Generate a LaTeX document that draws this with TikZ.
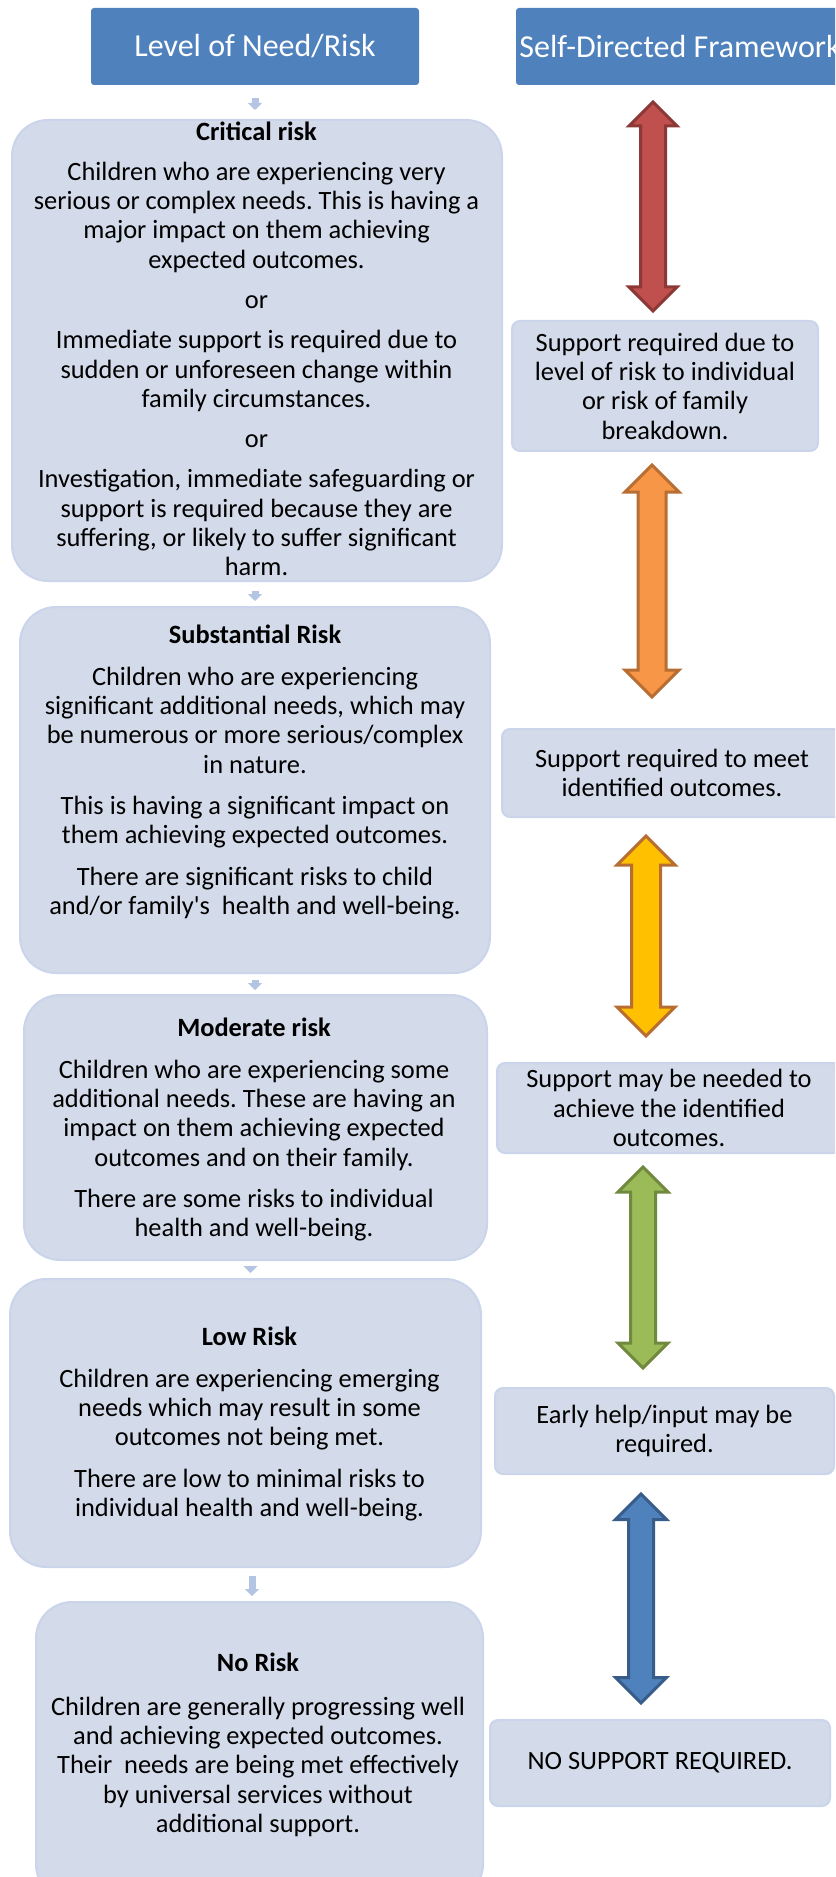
\documentclass[tikz,border=0pt]{standalone}
\usepackage{fontspec}
\setmainfont{Carlito}
\usetikzlibrary{arrows.meta,calc}
\frenchspacing

% 双向块箭头：#1 样式，#2 上端，#3 下端，#4 箭头半宽（兼箭头长），#5 箭身半宽
\newcommand{\blockarrow}[5]{%
	\draw[#1] (#2) -- ($(#2)+(#4,#4)$) -- ($(#2)+(#5,#4)$) -- ($(#3)+(#5,-#4)$) -- ($(#3)+(#4,-#4)$) -- (#3)
	-- ($(#3)+(-#4,-#4)$) -- ($(#3)+(-#5,-#4)$) -- ($(#2)+(-#5,#4)$) -- ($(#2)+(-#4,#4)$) -- cycle;}

\begin{document}
\begin{tikzpicture}[x=0.5pt, y=-0.5pt, font=\fontsize{13.2pt}{14.65pt}\selectfont,
	head/.style={fill=hdrblue, rounded corners=1.5pt, text=white, inner sep=0pt,
		font=\fontsize{16pt}{19pt}\selectfont, minimum width=164pt, minimum height=38.5pt},
	level/.style={fill=boxfill, draw=boxline, line width=1pt, rounded corners=18pt, inner sep=0pt},
	levtext/.style={anchor=north, align=center, inner sep=0pt},
	support/.style={fill=boxfill, draw=boxline, line width=1pt, rounded corners=4pt, align=center, inner sep=0pt},
	stub/.style={draw=stubblue, line width=3.5pt, -{Triangle[width=7pt,length=3.5pt]}},
	blk/.style={line width=1.5pt, line join=miter},
	redarrow/.style={blk, fill=redfill, draw=redline},
	orangearrow/.style={blk, fill=orangefill, draw=orangeline},
	yellowarrow/.style={blk, fill=yellowfill, draw=orangeline},
	greenarrow/.style={blk, fill=greenfill, draw=greenline},
	bluearrow/.style={blk, fill=hdrblue, draw=blueline}]
	\definecolor{hdrblue}{RGB}{79,129,189}
	\definecolor{boxfill}{RGB}{211,218,233}
	\definecolor{boxline}{RGB}{202,212,234}
	\definecolor{stubblue}{RGB}{180,197,228}
	\definecolor{redfill}{RGB}{192,80,77}
	\definecolor{redline}{RGB}{140,56,54}
	\definecolor{orangefill}{RGB}{247,150,70}
	\definecolor{orangeline}{RGB}{184,110,50}
	\definecolor{yellowfill}{RGB}{255,192,0}
	\definecolor{greenfill}{RGB}{155,187,89}
	\definecolor{greenline}{RGB}{113,137,63}
	\definecolor{blueline}{RGB}{56,93,138}
	
	\useasboundingbox (0,0) rectangle (835,1877);
	\clip (0,0) rectangle (835,1877);
	
	% 标题框
	\node[head] (hdrL) at (255,46.5) {Level of Need/Risk};
	\node[head] (hdrR) at (680,46.5) {Self-Directed Framework};
	
	% 左侧：需求 / 风险等级
	\node[level, minimum width=245pt, minimum height=230.5pt] (crit) at (257,350.5) {};
	\node[level, minimum width=235pt, minimum height=183pt] (subst) at (255,790) {};
	\node[level, minimum width=231.5pt, minimum height=132.5pt] (moder) at (255.5,1127.5) {};
	\node[level, minimum width=235.5pt, minimum height=144pt] (low) at (245.5,1423) {};
	\node[level, minimum width=223.5pt, minimum height=149pt] (norisk) at (259.5,1751) {};
	
	\node[levtext] (crit-txt) at (256.5,122) {\textbf{Critical risk}\\[5pt]
		Children who are experiencing very\\
		serious or complex needs. This is having a\\
		major impact on them achieving\\
		expected outcomes.\\[5.5pt]
		or\\[5.5pt]
		Immediate support is required due to\\
		sudden or unforeseen change within\\
		family circumstances.\\[5.5pt]
		or\\[5.5pt]
		Investigation, immediate safeguarding or\\
		support is required because they are\\
		suffering, or likely to suffer significant\\
		harm.};
	\node[levtext] (subst-txt) at (255,625) {\textbf{Substantial Risk}\\[6pt]
		Children who are experiencing\\
		significant additional needs, which may\\
		be numerous or more serious/complex\\
		in nature.\\[6pt]
		This is having a significant impact on\\
		them achieving expected outcomes.\\[6pt]
		There are significant risks to child\\
		and/or family\textquotesingle s~ health and well-being.};
	\node[levtext] (moder-txt) at (254,1018) {\textbf{Moderate risk}\\[6pt]
		Children who are experiencing some\\
		additional needs. These are having an\\
		impact on them achieving expected\\
		outcomes and on their family.\\[6pt]
		There are some risks to individual\\
		health and well-being.};
	\node[levtext] (low-txt) at (249.5,1327) {\textbf{Low Risk}\\[6pt]
		Children are experiencing emerging\\
		needs which may result in some\\
		outcomes not being met.\\[6pt]
		There are low to minimal risks to\\
		individual health and well-being.};
	\node[levtext] (norisk-txt) at (258,1653) {\textbf{No Risk}\\[7pt]
		Children are generally progressing well\\
		and achieving expected outcomes.\\
		Their~ needs are being met effectively\\
		by universal services without\\
		additional support.};
	
	% 等级之间的小箭头
	\draw[stub, shorten <=6.5pt, shorten >=4.5pt] (hdrL.south) -- (hdrL.south |- crit.north);
	\draw[stub, shorten <=4.5pt, shorten >=2.5pt] (crit.south -| subst.north) -- (subst.north);
	\draw[stub, shorten <=3pt, shorten >=2pt] (subst.south) -- (subst.south |- moder.north);
	\draw[stub, shorten <=4pt, shorten >=2.5pt] ([xshift=-2.5pt]moder.south) -- ([xshift=-2.5pt]moder.south |- low.north);
	\draw[stub, shorten <=4pt, shorten >=2.5pt] ([xshift=3.25pt]low.south) -- ([xshift=3.25pt]low.south |- norisk.north);
	
	% 右侧：支持框
	\node[support, minimum width=153pt, minimum height=65pt] (sup1) at (665,386)
		{Support required due to\\ level of risk to individual\\ or risk of family\\ breakdown.};
	\node[support, minimum width=170pt, minimum height=44pt] (sup2) at (672,773)
		{Support required to meet\\ identified outcomes.};
	\node[support, minimum width=172pt, minimum height=45pt] (sup3) at (669,1108)
		{Support may be needed to\\ achieve the identified\\ outcomes.};
	\node[support, minimum width=169.5pt, minimum height=43pt] (sup4) at (664.5,1431)
		{Early help/input may be\\ required.};
	\node[support, minimum width=170pt, minimum height=43pt] (sup5) at (660,1763)
		{NO SUPPORT REQUIRED.};
	
	% 双向箭头
	\coordinate (redtop) at (653,102);     \coordinate (redbot) at (653,311);
	\coordinate (orangetop) at (652,465);  \coordinate (orangebot) at (652,697);
	\coordinate (yellowtop) at (646,836);  \coordinate (yellowbot) at (646,1036);
	\coordinate (greentop) at (643,1167);  \coordinate (greenbot) at (643,1368);
	\coordinate (bluetop) at (641,1494);   \coordinate (bluebot) at (641,1703);
	\blockarrow{redarrow}{redtop}{redbot}{24}{12.5}
	\blockarrow{orangearrow}{orangetop}{orangebot}{27}{14}
	\blockarrow{yellowarrow}{yellowtop}{yellowbot}{29}{14.5}
	\blockarrow{greenarrow}{greentop}{greenbot}{25}{12.5}
	\blockarrow{bluearrow}{bluetop}{bluebot}{25.5}{12.5}
\end{tikzpicture}
\end{document}
